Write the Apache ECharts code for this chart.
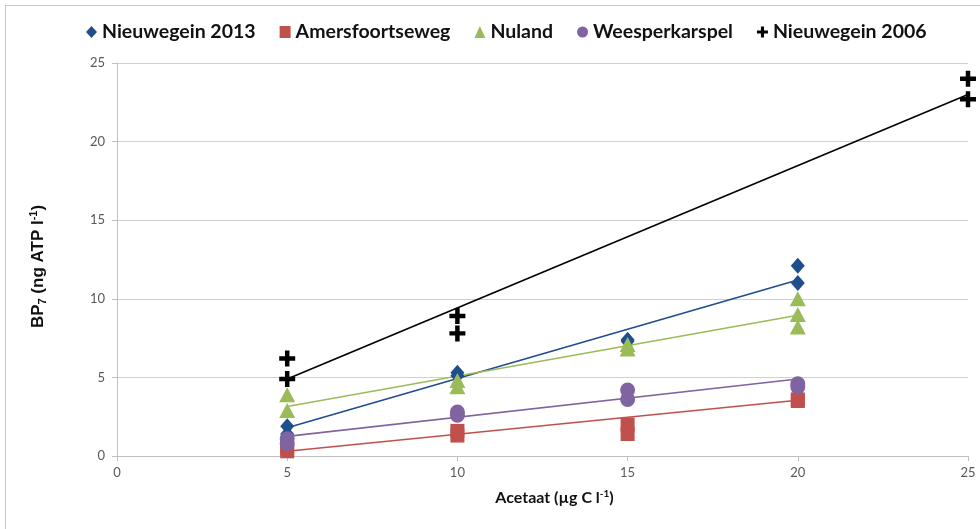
<!DOCTYPE html>
<html>
<head>
<meta charset="utf-8">
<script src="https://cdn.jsdelivr.net/npm/echarts@6/dist/echarts.min.js"></script>
<style>
html,body{margin:0;padding:0;background:#fff;}
#frame{position:absolute;left:5px;top:5px;width:990px;height:530px;border:1px solid #c8c8c8;box-sizing:border-box;}
#chart{position:absolute;left:0;top:0;width:980px;height:529px;}
</style>
</head>
<body>
<div id="frame"></div>
<div id="chart"></div>
<script>
// ---- data ----
const xTicks = [0, 5, 10, 15, 20, 25];
const yTicks = [0, 5, 10, 15, 20, 25];
const seriesNames = ['Nieuwegein 2013', 'Amersfoortseweg', 'Nuland', 'Weesperkarspel', 'Nieuwegein 2006'];

const nieuwegein2013 = [[5, 1.9], [5, 1.4], [10, 5.3], [10, 5.1], [15, 7.3], [15, 7.4], [20, 12.1], [20, 11.0]];
const amersfoortseweg = [[5, 0.3], [5, 0.5], [10, 1.6], [10, 1.3], [15, 2.0], [15, 1.4], [20, 3.5], [20, 3.6]];
const nuland = [[5, 3.9], [5, 2.9], [10, 4.8], [10, 4.4], [15, 7.1], [15, 6.8], [20, 10.0], [20, 9.0], [20, 8.2]];
const weesperkarspel = [[5, 1.1], [5, 0.8], [10, 2.8], [10, 2.6], [15, 4.2], [15, 3.6], [20, 4.6], [20, 4.4]];
const nieuwegein2006 = [[5, 6.2], [5, 4.9], [10, 8.9], [10, 7.8], [25, 24.0], [25, 22.7]];

// trend lines (Excel linear trendlines, endpoints)
const trend2013 = [[5, 1.8], [20, 11.2]];
const trendAmersfoort = [[5, 0.3], [20, 3.55]];
const trendNuland = [[5, 3.15], [20, 8.95]];
const trendWeesper = [[5, 1.25], [20, 4.9]];
const trend2006 = [[5, 4.9], [25, 23.0]];

const colors = ['#1F4E8C', '#C0504D', '#9BBB59', '#8064A2', '#000000'];
const plusPath = 'path://M3.6,0H6.4V3.6H10V6.4H6.4V10H3.6V6.4H0V3.6H3.6Z';

const chart = echarts.init(document.getElementById('chart'), null, {renderer: 'canvas'});

function scatter(name, data, color, symbol, size) {
  return {
    name: name, type: 'scatter', data: data, symbol: symbol, symbolSize: size,
    itemStyle: {color: color, opacity: 1}, z: 3
  };
}
function trend(name, data, color) {
  return {
    name: name, type: 'line', data: data, symbol: 'none', silent: true,
    lineStyle: {color: color, width: 1.6}, z: 2
  };
}

const option = {
  animation: false,
  backgroundColor: 'transparent',
  color: colors,
  legend: {
    data: [
      {name: seriesNames[0], icon: 'diamond'},
      {name: seriesNames[1], icon: 'rect'},
      {name: seriesNames[2], icon: 'triangle'},
      {name: seriesNames[3], icon: 'circle'},
      {name: seriesNames[4], icon: plusPath}
    ],
    left: 81, top: 17,
    itemWidth: 11, itemHeight: 12, itemGap: 24,
    textStyle: {fontFamily: 'Lato', fontWeight: 'bold', fontSize: 19.5, color: '#111'}
  },
  grid: {left: 117, right: 12, top: 63, bottom: 73},
  xAxis: {
    type: 'value', min: 0, max: 25, interval: 5,
    name: 'Acetaat (µg C l{sup|-1})', nameLocation: 'middle', nameGap: 33,
    nameTextStyle: {
      fontFamily: 'Lato', fontWeight: 'bold', fontSize: 16, color: '#111', padding: [0, 0, 0, 24],
      rich: {sup: {fontFamily: 'Lato', fontWeight: 'bold', fontSize: 10, color: '#111', verticalAlign: 'top', padding: [0, 0, 8, 0]}}
    },
    axisLine: {show: true, lineStyle: {color: '#BFBFBF', width: 1}},
    axisTick: {show: true, length: 5, lineStyle: {color: '#BFBFBF'}},
    axisLabel: {color: '#595959', fontFamily: 'Lato', fontSize: 13, margin: 10,
      formatter: v => xTicks.includes(v) ? String(v) : ''},
    splitLine: {show: false}
  },
  yAxis: {
    type: 'value', min: 0, max: 25, interval: 5,
    name: 'BP{sub|7} (ng ATP l{sup|-1})', nameLocation: 'middle', nameGap: 69, nameRotate: 90,
    nameTextStyle: {
      fontFamily: 'Liberation Sans', fontWeight: 'bold', fontSize: 17, color: '#111', padding: [0, 14, 0, 0],
      rich: {
        sub: {fontFamily: 'Liberation Sans', fontWeight: 'bold', fontSize: 11, color: '#111', padding: [9, 0, 0, 0]},
        sup: {fontFamily: 'Liberation Sans', fontWeight: 'bold', fontSize: 11, color: '#111', padding: [0, 0, 9, 0]}
      }
    },
    axisLine: {show: true, lineStyle: {color: '#BFBFBF', width: 1}},
    axisTick: {show: true, length: 5, lineStyle: {color: '#BFBFBF'}},
    axisLabel: {color: '#595959', fontFamily: 'Lato', fontSize: 13, margin: 12,
      formatter: v => yTicks.includes(v) ? String(v) : ''},
    splitLine: {show: true, lineStyle: {color: '#D0D0D0', width: 1.2}}
  },
  series: [
    trend('t1', trend2013, colors[0]),
    trend('t2', trendAmersfoort, colors[1]),
    trend('t3', trendNuland, colors[2]),
    trend('t4', trendWeesper, colors[3]),
    trend('t5', trend2006, colors[4]),
    scatter(seriesNames[0], nieuwegein2013, colors[0], 'diamond', [14, 16]),
    scatter(seriesNames[1], amersfoortseweg, colors[1], 'rect', 14),
    scatter(seriesNames[2], nuland, colors[2], 'triangle', [16, 15]),
    scatter(seriesNames[3], weesperkarspel, colors[3], 'circle', 15),
    scatter(seriesNames[4], nieuwegein2006, colors[4], plusPath, 16)
  ]
};
chart.setOption(option);
</script>
</body>
</html>
